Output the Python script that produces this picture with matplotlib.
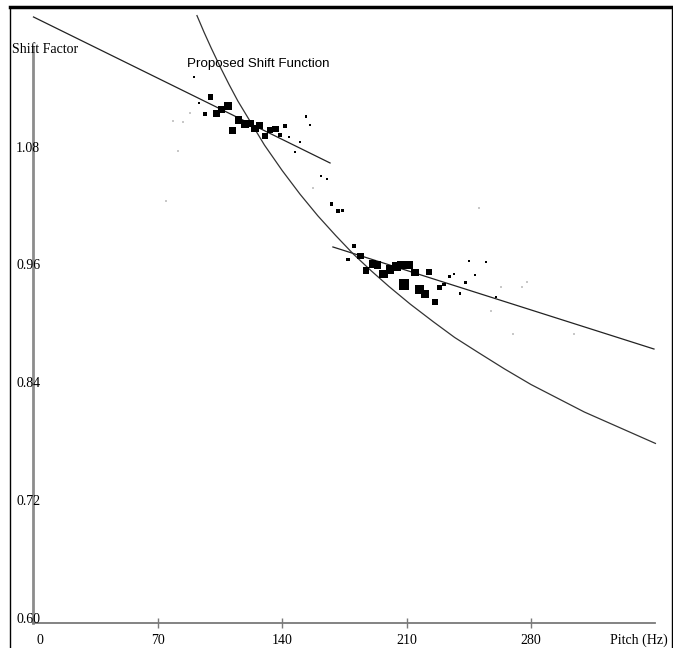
import matplotlib
matplotlib.use("Agg")
import matplotlib.pyplot as plt
from matplotlib.lines import Line2D

# ---------------- data ----------------
x_ticks = [70, 140, 210, 280]
x_tick_labels = ["70", "140", "210", "280"]
y_ticks = [0.60, 0.72, 0.84, 0.96, 1.08]
y_tick_labels = ["0.60", "0.72", "0.84", "0.96", "1.08"]

# measured points: pitch (Hz), shift factor, marker weight (square side in px)
pts_pitch = [99.7, 96.5, 103.1, 105.9, 109.6, 115.3, 119.0, 121.8, 112.1, 124.6,
             127.1, 130.3, 133.1, 136.3, 138.7, 141.5, 144.0, 147.0, 150.0, 153.2,
             155.6, 90.3, 93.3,
             161.6, 165.0, 167.8, 171.2, 173.8,
             180.5, 177.0, 184.1, 187.1, 190.7, 193.7, 196.9, 200.6, 204.4, 207.2,
             210.9, 208.5, 214.7, 217.2, 220.3, 222.6, 225.9, 228.5, 231.0, 234.0,
             236.6, 240.0, 243.0, 245.2, 248.3, 254.5, 260.2]
pts_shift = [1.136, 1.119, 1.119, 1.1235, 1.127, 1.1126, 1.1085, 1.1092, 1.1017, 1.1041,
             1.1068, 1.0963, 1.1024, 1.1034, 1.0973, 1.1065, 1.095, 1.0803, 1.0902, 1.1162,
             1.1072, 1.1561, 1.1302,
             1.0555, 1.0525, 1.027, 1.0196, 1.0206,
             0.9842, 0.9704, 0.974, 0.959, 0.9659, 0.9648, 0.9557, 0.9605, 0.9631, 0.9648,
             0.9648, 0.945, 0.957, 0.9401, 0.9353, 0.9577, 0.9271, 0.9419, 0.9448, 0.9533,
             0.9557, 0.936, 0.9467, 0.9689, 0.9546, 0.9681, 0.9325]
pts_weight = [5, 4, 6, 6, 7, 7, 8, 7, 6, 7,
              6, 6, 6, 6, 4, 4, 2, 2, 2, 2,
              2, 2, 1.5,
              2, 2, 3, 4, 2.5,
              4, 3, 6, 6, 7, 7, 8, 8, 8, 8,
              8, 10, 7, 8, 8, 5, 6, 4, 3, 3,
              2.5, 2.5, 2.5, 1.5, 1.5, 1.5, 1.5]

# faint (light grey) points
faint_pitch = [78.5, 84.1, 81.3, 88.1, 74.6, 157.3, 250.9, 262.9, 274.7, 277.5, 257.3, 269.7, 304.2]
faint_shift = [1.1119, 1.1109, 1.0813, 1.1197, 1.0304, 1.0433, 1.0226, 0.9421, 0.9421, 0.9478,
               0.9183, 0.8942, 0.8942]

# two linear fits
fit1_pitch = [0.0, 166.9]
fit1_shift = [1.2176, 1.0688]
fit2_pitch = [168.5, 349.2]
fit2_shift = [0.9832, 0.8792]

# proposed shift function
curve_pitch = [92, 96, 100, 105, 110, 115, 120, 125, 130, 135, 140, 145, 150, 155,
               160, 165, 170, 180, 190, 200, 212, 225, 237, 250, 265, 280, 295,
               310, 330, 350]
curve_shift = [1.219, 1.202, 1.186, 1.167, 1.149, 1.132, 1.117, 1.102, 1.087, 1.074,
               1.061, 1.049, 1.037, 1.026, 1.015, 1.005, 0.995, 0.976, 0.959, 0.943,
               0.925, 0.907, 0.891, 0.876, 0.859, 0.843, 0.829, 0.815, 0.799, 0.783]

# ---------------- figure ----------------
W, H, DPI = 673, 648, 100
fig = plt.figure(figsize=(W / DPI, H / DPI), dpi=DPI, facecolor="white")
ax = fig.add_axes([0, 0, 1, 1])
ax.set_xlim(-18.85, 359.9)
ax.set_ylim(0.5745, 1.2349)
ax.set_facecolor("white")

serif = ["Liberation Serif", "DejaVu Serif"]
sans = ["Liberation Sans", "DejaVu Sans"]

for s in ["top", "right"]:
    ax.spines[s].set_visible(False)
ax.spines["left"].set_position(("data", 0))
ax.spines["left"].set_bounds(0.60, 1.187)
ax.spines["left"].set_color("#8c8c8c")
ax.spines["left"].set_linewidth(2.0)
ax.spines["bottom"].set_position(("data", 0.60))
ax.spines["bottom"].set_bounds(0, 350)
ax.spines["bottom"].set_color("#7a7a7a")
ax.spines["bottom"].set_linewidth(1.3)

ax.set_yticks([])
ax.set_xticks(x_ticks)
ax.set_xticklabels([])
ax.tick_params(axis="x", direction="inout", length=7, width=1.0, color="#7a7a7a")

# x tick labels
for xv, lab in zip([0] + x_ticks, ["0"] + x_tick_labels):
    ax.text(xv + (3.5 if xv == 0 else 0), 0.5826, lab, ha="center", va="center",
            fontsize=10, family=serif, color="black")
ax.text(357.0, 0.5826, "Pitch (Hz)", ha="right", va="center", fontsize=10,
        family=serif, color="black")

# y tick labels
for yv, lab in zip(y_ticks, y_tick_labels):
    ax.text(-3.0, yv + 0.004, lab, ha="center", va="center", fontsize=10,
            family=serif, color="black")
ax.text(-12.2, 1.1846, "Shift Factor", ha="left", va="center", fontsize=10,
        family=serif, color="black")
ax.text(86.5, 1.1700, "Proposed Shift Function", ha="left", va="center",
        fontsize=9.6, family=sans, color="black")

# lines
ax.plot(fit1_pitch, fit1_shift, color="#222222", lw=0.9)
ax.plot(fit2_pitch, fit2_shift, color="#222222", lw=0.9)
ax.plot(curve_pitch, curve_shift, color="#333333", lw=0.9, solid_joinstyle="round")

# points
ax.scatter(faint_pitch, faint_shift, s=(1.6 * 0.72) ** 2, marker="s",
           color="#c8c8c8", linewidths=0)
ax.scatter(pts_pitch, pts_shift, s=[(w * 0.72 * 1.08) ** 2 for w in pts_weight],
           marker="s", color="black", linewidths=0, zorder=3)

# frame around the picture
fig.add_artist(Line2D([10 / W, 10 / W], [0, 641 / H], transform=fig.transFigure,
                      color="black", lw=1.0))
fig.add_artist(Line2D([671.5 / W, 671.5 / W], [0, 641 / H], transform=fig.transFigure,
                      color="black", lw=1.0))
fig.add_artist(Line2D([9.5 / W, 672 / W], [641 / H, 641 / H], transform=fig.transFigure,
                      color="black", lw=2.5))

fig.savefig("out.png", dpi=DPI, facecolor="white")
